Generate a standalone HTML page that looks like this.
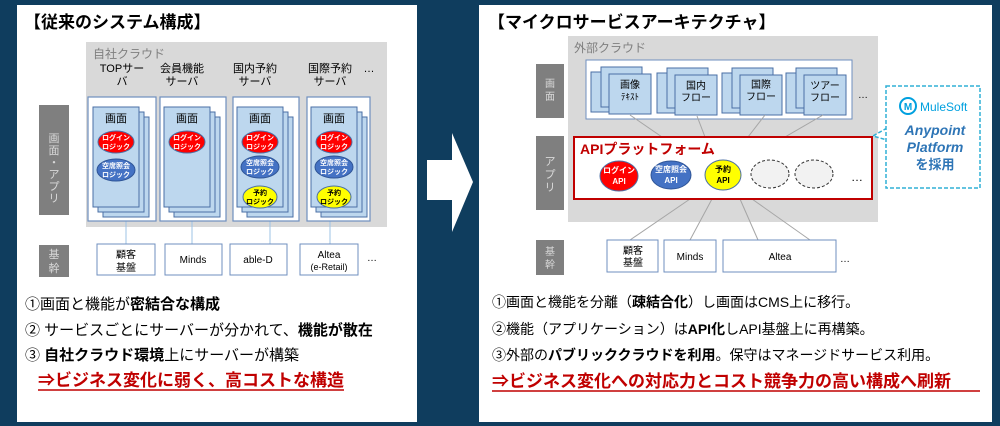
<!DOCTYPE html>
<html><head><meta charset="utf-8"><style>
body{margin:0;width:1000px;height:426px;overflow:hidden;background:#0f3d5e;font-family:"Liberation Sans","Noto Sans CJK JP",sans-serif}
svg{position:absolute;left:0;top:0}
text{font-family:"Liberation Sans","Noto Sans CJK JP",sans-serif}
</style></head><body>
<svg width="1000" height="426" viewBox="0 0 1000 426">
<defs>
<g id="pg"><rect x="10" y="10" width="46" height="100" fill="#bdd7ee" stroke="#4a6fa5"/><rect x="5" y="5" width="46" height="100" fill="#bdd7ee" stroke="#4a6fa5"/><rect x="0" y="0" width="46" height="100" fill="#bdd7ee" stroke="#4a6fa5"/></g>
<g id="sp"><rect x="0" y="5" width="30" height="40" fill="#bdd7ee" stroke="#4a6fa5"/><rect x="10" y="0" width="41" height="40" fill="#bdd7ee" stroke="#4a6fa5"/><rect x="18" y="7" width="42" height="40" fill="#bdd7ee" stroke="#4a6fa5"/></g>
</defs>
<rect x="0" y="0" width="1000" height="426" fill="#0f3d5e"/>
<rect x="17" y="5" width="400" height="417" fill="#fff"/>
<rect x="479" y="5" width="513" height="417" fill="#fff"/>
<path d="M427 160 H452 V133 L473 182 L452 232 V200 H427 Z" fill="#fff"/>

<!-- LEFT -->
<text x="24" y="28" font-size="17" font-weight="bold">【従来のシステム構成】</text>
<rect x="86" y="42" width="301" height="185" fill="#d9d9d9"/>
<text x="93" y="58" font-size="12" fill="#7f7f7f">自社クラウド</text>
<g font-size="11" text-anchor="middle">
<text x="122" y="72">TOPサー</text><text x="122" y="85">バ</text>
<text x="182" y="72">会員機能</text><text x="182" y="85">サーバ</text>
<text x="255" y="72">国内予約</text><text x="255" y="85">サーバ</text>
<text x="330" y="72">国際予約</text><text x="330" y="85">サーバ</text>
<text x="369" y="72">…</text>
</g>
<g stroke="#9dc3e6"><line x1="126" y1="221" x2="126" y2="244"/><line x1="192" y1="221" x2="192" y2="244"/><line x1="270" y1="221" x2="270" y2="244"/><line x1="330" y1="221" x2="330" y2="244"/></g>
<g fill="#fff" stroke="#6f8fbf" stroke-width="1.2">
<rect x="88" y="97" width="68" height="124"/><rect x="160" y="97" width="66" height="124"/><rect x="233" y="97" width="66" height="124"/><rect x="307" y="97" width="63" height="124"/>
</g>
<use href="#pg" transform="translate(93,107)"/>
<use href="#pg" transform="translate(164,107)"/>
<use href="#pg" transform="translate(237,107)"/>
<use href="#pg" transform="translate(311,107)"/>
<g font-size="11" text-anchor="middle"><text x="116" y="122">画面</text><text x="187" y="122">画面</text><text x="260" y="122">画面</text><text x="334" y="122">画面</text></g>
<g font-size="7" font-weight="bold" text-anchor="middle">
<g fill="#ff0000" stroke="#4a6fa5"><ellipse cx="116" cy="142" rx="18" ry="11"/><ellipse cx="187" cy="142" rx="18" ry="11"/><ellipse cx="260" cy="142" rx="18" ry="11"/><ellipse cx="334" cy="142" rx="18" ry="11"/></g>
<g fill="#fff"><text x="116" y="140">ログイン</text><text x="116" y="149">ロジック</text><text x="187" y="140">ログイン</text><text x="187" y="149">ロジック</text><text x="260" y="140">ログイン</text><text x="260" y="149">ロジック</text><text x="334" y="140">ログイン</text><text x="334" y="149">ロジック</text></g>
<g fill="#4472c4" stroke="#2f5597"><ellipse cx="116" cy="170" rx="19" ry="11"/><ellipse cx="260" cy="167" rx="19" ry="11"/><ellipse cx="334" cy="167" rx="19" ry="11"/></g>
<g fill="#fff"><text x="116" y="168">空席照会</text><text x="116" y="177">ロジック</text><text x="260" y="165">空席照会</text><text x="260" y="174">ロジック</text><text x="334" y="165">空席照会</text><text x="334" y="174">ロジック</text></g>
<g fill="#ffff00" stroke="#4a6fa5"><ellipse cx="260" cy="197" rx="17" ry="11"/><ellipse cx="334" cy="197" rx="17" ry="11"/></g>
<text x="260" y="195">予約</text><text x="260" y="204">ロジック</text><text x="334" y="195">予約</text><text x="334" y="204">ロジック</text>
</g>
<rect x="39" y="105" width="30" height="110" fill="#7f7f7f"/>
<g font-size="11" fill="#d9d9d9" text-anchor="middle"><text x="54" y="142">画</text><text x="54" y="154">面</text><text x="54" y="166">・</text><text x="54" y="178">ア</text><text x="54" y="190">プ</text><text x="54" y="202">リ</text></g>
<rect x="39" y="245" width="30" height="32" fill="#7f7f7f"/>
<text x="54" y="258" font-size="11" fill="#d9d9d9" text-anchor="middle">基</text><text x="54" y="272" font-size="11" fill="#d9d9d9" text-anchor="middle">幹</text>
<g fill="#fff" stroke="#6f8fbf"><rect x="97" y="244" width="58" height="31"/><rect x="165" y="244" width="57" height="31"/><rect x="230" y="244" width="57" height="31"/><rect x="300" y="244" width="58" height="31"/></g>
<g font-size="10" text-anchor="middle"><text x="126" y="258">顧客</text><text x="126" y="271">基盤</text><text x="193" y="263">Minds</text><text x="258" y="263">able-D</text><text x="329" y="258">Altea</text><text x="329" y="270" font-size="9">(e-Retail)</text><text x="372" y="261">…</text></g>
<g font-size="15"><text x="25" y="309">①画面と機能が<tspan font-weight="bold">密結合な構成</tspan></text>
<text x="25" y="335">② サービスごとにサーバーが分かれて、<tspan font-weight="bold">機能が散在</tspan></text>
<text x="25" y="360">③ <tspan font-weight="bold">自社クラウド環境</tspan>上にサーバーが構築</text></g>
<text x="38" y="386" font-size="17" font-weight="bold" fill="#c00000">⇒ビジネス変化に弱く、高コストな構造</text>
<line x1="38" y1="390" x2="344" y2="390" stroke="#c00000" stroke-width="1.5"/>

<!-- RIGHT -->
<text x="488" y="28" font-size="17" font-weight="bold">【マイクロサービスアーキテクチャ】</text>
<rect x="568" y="36" width="310" height="186" fill="#d9d9d9"/>
<text x="574" y="52" font-size="12" fill="#7f7f7f">外部クラウド</text>
<rect x="586" y="60" width="266" height="59" fill="#fff" stroke="#6f8fbf"/>
<use href="#sp" transform="translate(591,67)"/><use href="#sp" transform="translate(657,68)"/><use href="#sp" transform="translate(722,68)"/><use href="#sp" transform="translate(786,68)"/>
<g font-size="10" text-anchor="middle"><text x="630" y="88">画像</text><text x="630" y="100" font-size="9">ﾃｷｽﾄ</text><text x="696" y="89">国内</text><text x="696" y="101">フロー</text><text x="761" y="88">国際</text><text x="761" y="100">フロー</text><text x="825" y="89">ツアー</text><text x="825" y="101">フロー</text><text x="863" y="98">…</text></g>
<g stroke="#a6a6a6"><line x1="630" y1="115" x2="662" y2="137"/><line x1="697" y1="116" x2="705" y2="137"/><line x1="765" y1="115" x2="748" y2="137"/><line x1="823" y1="115" x2="785" y2="137"/>
<line x1="690" y1="199" x2="630" y2="240"/><line x1="712" y1="199" x2="690" y2="240"/><line x1="740" y1="199" x2="758" y2="240"/><line x1="752" y1="199" x2="810" y2="240"/></g>
<rect x="574" y="137" width="298" height="62" fill="#fff" stroke="#c00000" stroke-width="2"/>
<text x="580" y="154" font-size="14" font-weight="bold" fill="#c00000">APIプラットフォーム</text>
<g font-size="8" font-weight="bold" text-anchor="middle">
<ellipse cx="619" cy="176" rx="19" ry="15" fill="#ff0000" stroke="#4a6fa5"/><text x="619" y="173" fill="#fff">ログイン</text><text x="619" y="184" fill="#fff">API</text>
<ellipse cx="671" cy="175" rx="20" ry="14" fill="#4472c4" stroke="#2f5597"/><text x="671" y="172" fill="#fff">空席照会</text><text x="671" y="183" fill="#fff">API</text>
<ellipse cx="723" cy="175" rx="18" ry="15" fill="#ffff00" stroke="#4a6fa5"/><text x="723" y="172">予約</text><text x="723" y="183">API</text>
</g>
<g fill="#f2f2f2" stroke="#333" stroke-dasharray="3,2"><ellipse cx="770" cy="174" rx="19" ry="14"/><ellipse cx="814" cy="174" rx="19" ry="14"/></g>
<text x="851" y="181" font-size="12">…</text>
<path d="M887 128 L873 136 L887 140" fill="#fff" stroke="#31b0d5" stroke-width="1.5" stroke-dasharray="4,2"/>
<rect x="886" y="86" width="94" height="102" fill="#fff" stroke="#31b0d5" stroke-width="1.5" stroke-dasharray="4,2"/>
<circle cx="908" cy="106" r="8" fill="#fff" stroke="#00a0df" stroke-width="2"/><text x="908" y="110" font-size="10" font-weight="bold" fill="#00a0df" text-anchor="middle">M</text>
<text x="920" y="111" font-size="12" fill="#00a0df">MuleSoft</text>
<g font-size="14" font-weight="bold" font-style="italic" fill="#2e75b6" text-anchor="middle"><text x="935" y="135">Anypoint</text><text x="935" y="152">Platform</text></g>
<text x="935" y="169" font-size="13" font-weight="bold" fill="#2e75b6" text-anchor="middle">を採用</text>
<rect x="536" y="64" width="28" height="54" fill="#7f7f7f"/><text x="550" y="87" font-size="10" fill="#d9d9d9" text-anchor="middle">画</text><text x="550" y="100" font-size="10" fill="#d9d9d9" text-anchor="middle">面</text>
<rect x="536" y="136" width="28" height="74" fill="#7f7f7f"/>
<g font-size="11" fill="#d9d9d9" text-anchor="middle"><text x="550" y="165">ア</text><text x="550" y="178">プ</text><text x="550" y="191">リ</text></g>
<rect x="536" y="240" width="28" height="35" fill="#7f7f7f"/><text x="550" y="255" font-size="10" fill="#d9d9d9" text-anchor="middle">基</text><text x="550" y="268" font-size="10" fill="#d9d9d9" text-anchor="middle">幹</text>
<g fill="#fff" stroke="#6f8fbf"><rect x="607" y="240" width="51" height="32"/><rect x="664" y="240" width="52" height="32"/><rect x="723" y="240" width="113" height="32"/></g>
<g font-size="10" text-anchor="middle"><text x="633" y="254">顧客</text><text x="633" y="266">基盤</text><text x="690" y="260">Minds</text><text x="780" y="260">Altea</text><text x="845" y="262">…</text></g>
<g font-size="14"><text x="492" y="307">①画面と機能を分離（<tspan font-weight="bold">疎結合化</tspan>）し画面はCMS上に移行。</text>
<text x="492" y="334">②機能（アプリケーション）は<tspan font-weight="bold">API化</tspan>しAPI基盤上に再構築。</text>
<text x="492" y="360">③外部の<tspan font-weight="bold">パブリッククラウドを利用</tspan>。保守はマネージドサービス利用。</text></g>
<text x="492" y="387" font-size="17" font-weight="bold" fill="#c00000">⇒ビジネス変化への対応力とコスト競争力の高い構成へ刷新</text>
<line x1="492" y1="391" x2="980" y2="391" stroke="#c00000" stroke-width="1.5"/>
</svg>
</body></html>
